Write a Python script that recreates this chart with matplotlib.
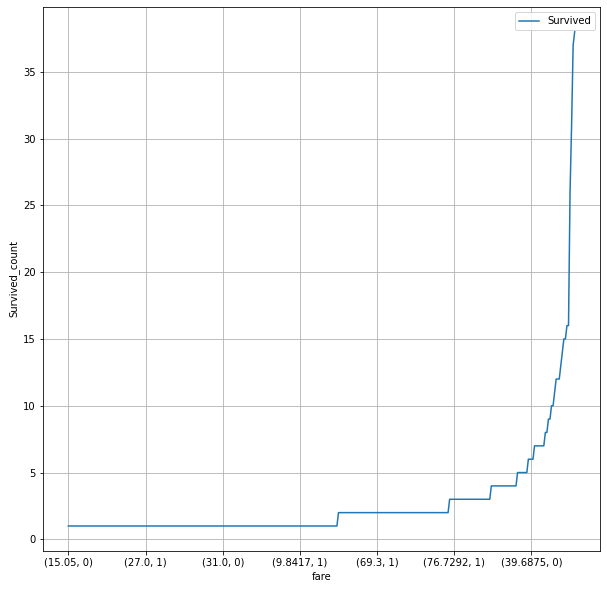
import matplotlib
matplotlib.use("Agg")
import matplotlib.pyplot as plt

# counts per (fare, survived) group, sorted ascending, stored as run lengths
levels = [1, 2, 3, 4, 5, 6, 7, 8, 9, 10, 11, 12, 13, 14, 15, 16, 26, 31, 37, 38]
runs = [175, 72, 27, 17, 7, 4, 7, 2, 2, 2, 1, 3, 1, 1, 2, 2, 1, 1, 1, 1]

tick_every = 50
tick_labels = ["(15.05, 0)", "(27.0, 1)", "(31.0, 0)", "(9.8417, 1)",
               "(69.3, 1)", "(76.7292, 1)", "(39.6875, 0)"]

counts = []
for lev, r in zip(levels, runs):
    counts += [lev] * r
x = list(range(len(counts)))

fig = plt.figure(figsize=(607 / 72, 589 / 72), dpi=72)
ax = fig.add_axes([43 / 607, 38.3 / 589, 557 / 607, 543.7 / 589])

ax.plot(x, counts, label="Survived")

ax.set_xticks(list(range(0, len(counts), tick_every)))
ax.set_xticklabels(tick_labels)
ax.set_xlabel("fare")
ax.set_ylabel("Survived_count")
ax.grid(True)
ax.legend(loc="upper right")

fig.savefig("out.png", dpi=72)
